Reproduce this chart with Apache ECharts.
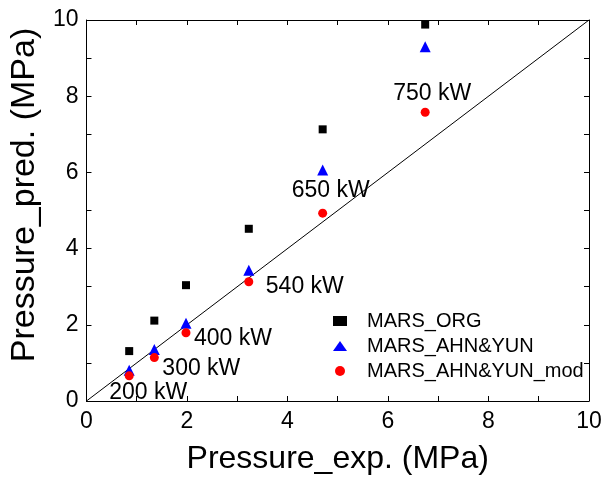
<!DOCTYPE html>
<html><head><meta charset="utf-8">
<script src="https://cdn.jsdelivr.net/npm/echarts@6/dist/echarts.min.js"></script>
<style>html,body{margin:0;padding:0;background:#fff}#c{width:613px;height:486px}</style>
</head><body><div id="c"></div>
<script>
const xExp = [0.85, 1.35, 1.98, 3.23, 4.70, 6.74];
const yOrg = [1.31, 2.11, 3.04, 4.52, 7.13, 9.88];
const yAhn = [0.81, 1.35, 2.04, 3.43, 6.06, 9.30];
const yMod = [0.66, 1.14, 1.79, 3.13, 4.93, 7.58];
const powerLabels = ['200 kW', '300 kW', '400 kW', '540 kW', '650 kW', '750 kW'];
const seriesNames = ['MARS_ORG', 'MARS_AHN&YUN', 'MARS_AHN&YUN_mod'];
const xTitle = 'Pressure_exp. (MPa)';
const yTitle = 'Pressure_pred. (MPa)';
const diag = [[0, 0], [10, 10]];

const FONT = 'Liberation Sans, Arial, sans-serif';
const labelOffsets = [[19, 17], [47, 11], [47, 6], [56, 5], [8, -23], [7, -19]];

const chart = echarts.init(document.getElementById('c'), null, {renderer: 'canvas'});
const axisCommon = {
  type: 'value', min: 0, max: 10, interval: 2,
  axisLine: {show: true, onZero: false, lineStyle: {color: '#000', width: 1}},
  axisTick: {show: true, inside: true, length: 5, lineStyle: {color: '#000'}},
  minorTick: {show: true, splitNumber: 2, length: 5, lineStyle: {color: '#000'}},
  splitLine: {show: false},
  axisLabel: {color: '#000', fontSize: 23, fontFamily: FONT}
};
const option = {
  animation: false,
  backgroundColor: '#fff',
  grid: {left: 85, right: 24, top: 20, bottom: 85},
  legend: {
    orient: 'vertical', left: 333, top: 311, padding: 0, itemGap: 5, itemWidth: 14, itemHeight: 10,
    textStyle: {color: '#000', fontSize: 20, lineHeight: 20, fontFamily: FONT, padding: [0, 0, 0, 15]},
    data: seriesNames
  },
  xAxis: [
    Object.assign({}, axisCommon, {position: 'bottom', name: xTitle, nameLocation: 'middle', nameGap: 42,
      nameTextStyle: {color: '#000', fontSize: 32, fontFamily: FONT},
      axisLabel: Object.assign({}, axisCommon.axisLabel, {margin: 9})}),
    Object.assign({}, axisCommon, {position: 'top', axisLabel: {show: false}})
  ],
  yAxis: [
    Object.assign({}, axisCommon, {position: 'left', name: yTitle, nameLocation: 'middle', nameGap: 39,
      nameTextStyle: {color: '#000', fontSize: 34, fontFamily: FONT, padding: [0, 0, 0, 31]},
      axisLabel: Object.assign({}, axisCommon.axisLabel, {margin: 8})}),
    Object.assign({}, axisCommon, {position: 'right', axisLabel: {show: false}})
  ],
  series: [
    {type: 'line', data: diag, symbol: 'none', lineStyle: {color: '#000', width: 1}, silent: true, z: 1},
    {name: seriesNames[0], type: 'scatter', symbol: 'rect', symbolSize: 8,
     itemStyle: {color: '#000', opacity: 1}, data: xExp.map((x, i) => [x, yOrg[i]]), z: 3},
    {name: seriesNames[1], type: 'scatter', symbol: 'triangle', symbolSize: 11,
     itemStyle: {color: '#0000ff', opacity: 1}, data: xExp.map((x, i) => [x, yAhn[i]]), z: 3},
    {name: seriesNames[2], type: 'scatter', symbol: 'circle', symbolSize: 9,
     itemStyle: {color: '#ff0000', opacity: 1}, z: 4,
     data: xExp.map((x, i) => ({
       value: [x, yMod[i]],
       label: {show: true, formatter: powerLabels[i], position: 'inside', offset: labelOffsets[i],
         color: '#000', fontSize: 23, fontFamily: FONT}
     }))}
  ]
};
chart.setOption(option);
</script></body></html>
